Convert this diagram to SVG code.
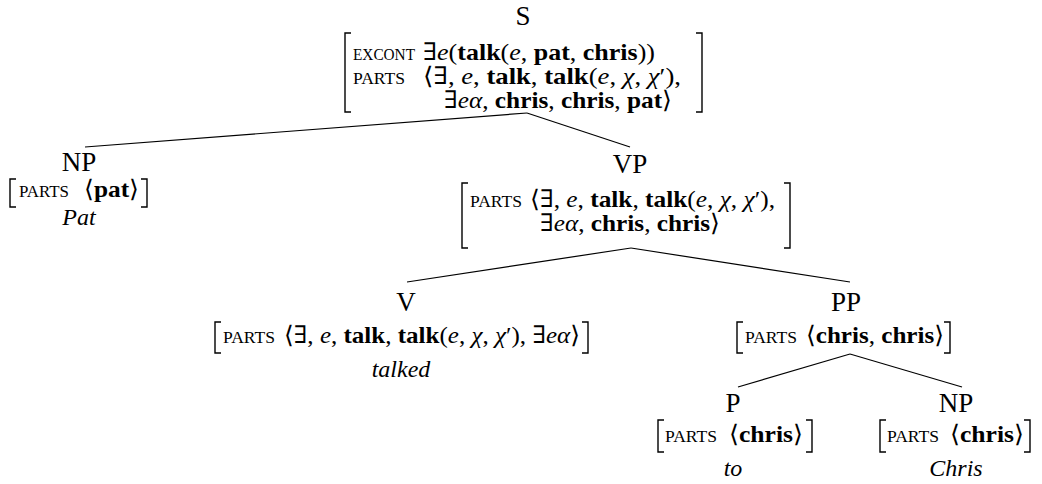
<svg xmlns="http://www.w3.org/2000/svg" width="1042" height="484" viewBox="0 0 1042 484">
<style>
text{font-family:"Liberation Serif","DejaVu Serif",serif;fill:#000}
.cat{font-size:27px;text-anchor:middle}
.attr{font-size:17px}
.v{font-size:24px}
.b{font-weight:bold}
.i{font-style:italic}
.w{font-size:24px;font-style:italic;text-anchor:middle}
.br{fill:none;stroke:#000;stroke-width:1.4}
.edge{stroke:#000;stroke-width:1.2;fill:none}
</style>
<rect width="1042" height="484" fill="#fff"/>
<g id="connectors">
<line class="edge" x1="527" y1="113" x2="85" y2="147"/>
<line class="edge" x1="527" y1="113" x2="630" y2="147"/>
<line class="edge" x1="631" y1="248" x2="407" y2="282"/>
<line class="edge" x1="631" y1="248" x2="850" y2="282"/>
<line class="edge" x1="850" y1="354" x2="738" y2="387"/>
<line class="edge" x1="850" y1="354" x2="962" y2="387"/>
</g>
<g id="node-S">
<text class="cat" x="523" y="25">S</text>
<path class="br" d="M351 33H345V112H351"/>
<path class="br" d="M696 33H702V112H696"/>
<text class="attr" x="353" y="60" textLength="62" lengthAdjust="spacingAndGlyphs">EXCONT</text>
<text class="v" x="423" y="60" textLength="232" lengthAdjust="spacingAndGlyphs">∃<tspan class="i">e</tspan>(<tspan class="b">talk</tspan>(<tspan class="i">e</tspan>, <tspan class="b">pat</tspan>, <tspan class="b">chris</tspan>))</text>
<text class="attr" x="353" y="84" textLength="52" lengthAdjust="spacingAndGlyphs">PARTS</text>
<text class="v" x="423" y="84" textLength="258" lengthAdjust="spacingAndGlyphs">⟨∃, <tspan class="i">e</tspan>, <tspan class="b">talk</tspan>, <tspan class="b">talk</tspan>(<tspan class="i">e</tspan>, <tspan class="i">χ</tspan>, <tspan class="i">χ</tspan>′),</text>
<text class="v" x="444" y="108" textLength="228" lengthAdjust="spacingAndGlyphs">∃<tspan class="i">eα</tspan>, <tspan class="b">chris</tspan>, <tspan class="b">chris</tspan>, <tspan class="b">pat</tspan>⟩</text>
</g>
<g id="node-NP1">
<text class="cat" x="79" y="171">NP</text>
<path class="br" d="M16 179H10V207H16"/>
<path class="br" d="M141 179H147V207H141"/>
<text class="attr" x="19" y="197" textLength="50" lengthAdjust="spacingAndGlyphs">PARTS</text>
<text class="v" x="84" y="197" textLength="55" lengthAdjust="spacingAndGlyphs">⟨<tspan class="b">pat</tspan>⟩</text>
<text class="w" x="79" y="225">Pat</text>
</g>
<g id="node-VP">
<text class="cat" x="630" y="173">VP</text>
<path class="br" d="M468 183H462V248H468"/>
<path class="br" d="M784 183H790V248H784"/>
<text class="attr" x="470" y="207" textLength="52" lengthAdjust="spacingAndGlyphs">PARTS</text>
<text class="v" x="530" y="207" textLength="245" lengthAdjust="spacingAndGlyphs">⟨∃, <tspan class="i">e</tspan>, <tspan class="b">talk</tspan>, <tspan class="b">talk</tspan>(<tspan class="i">e</tspan>, <tspan class="i">χ</tspan>, <tspan class="i">χ</tspan>′),</text>
<text class="v" x="540" y="231" textLength="180" lengthAdjust="spacingAndGlyphs">∃<tspan class="i">eα</tspan>, <tspan class="b">chris</tspan>, <tspan class="b">chris</tspan>⟩</text>
</g>
<g id="node-V">
<text class="cat" x="406" y="311">V</text>
<path class="br" d="M221 322H215V353H221"/>
<path class="br" d="M582 322H588V353H582"/>
<text class="attr" x="223" y="343" textLength="52" lengthAdjust="spacingAndGlyphs">PARTS</text>
<text class="v" x="284" y="343" textLength="296" lengthAdjust="spacingAndGlyphs">⟨∃, <tspan class="i">e</tspan>, <tspan class="b">talk</tspan>, <tspan class="b">talk</tspan>(<tspan class="i">e</tspan>, <tspan class="i">χ</tspan>, <tspan class="i">χ</tspan>′), ∃<tspan class="i">eα</tspan>⟩</text>
<text class="w" x="401" y="377">talked</text>
</g>
<g id="node-PP">
<text class="cat" x="846" y="311">PP</text>
<path class="br" d="M743 322H737V353H743"/>
<path class="br" d="M944 322H950V353H944"/>
<text class="attr" x="745" y="343" textLength="52" lengthAdjust="spacingAndGlyphs">PARTS</text>
<text class="v" x="806" y="343" textLength="138" lengthAdjust="spacingAndGlyphs">⟨<tspan class="b">chris</tspan>, <tspan class="b">chris</tspan>⟩</text>
</g>
<g id="node-P">
<text class="cat" x="733" y="412">P</text>
<path class="br" d="M664 420H658V452H664"/>
<path class="br" d="M806 420H812V452H806"/>
<text class="attr" x="665" y="442" textLength="52" lengthAdjust="spacingAndGlyphs">PARTS</text>
<text class="v" x="729" y="442" textLength="74" lengthAdjust="spacingAndGlyphs">⟨<tspan class="b">chris</tspan>⟩</text>
<text class="w" x="733" y="476">to</text>
</g>
<g id="node-NP2">
<text class="cat" x="956" y="412">NP</text>
<path class="br" d="M886 420H880V452H886"/>
<path class="br" d="M1024 420H1030V452H1024"/>
<text class="attr" x="887" y="442" textLength="52" lengthAdjust="spacingAndGlyphs">PARTS</text>
<text class="v" x="950" y="442" textLength="74" lengthAdjust="spacingAndGlyphs">⟨<tspan class="b">chris</tspan>⟩</text>
<text class="w" x="956" y="476">Chris</text>
</g>
</svg>
